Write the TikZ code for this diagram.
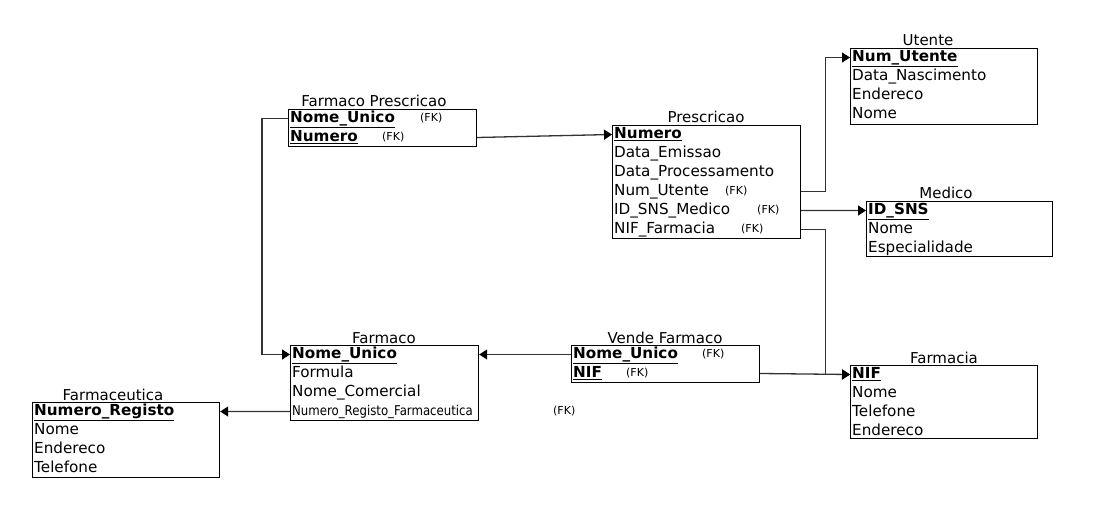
\documentclass[tikz,border=0pt]{standalone}
\usepackage{fontspec}
\usepackage{graphicx}
\setmainfont{DejaVu Sans}
\usetikzlibrary{arrows.meta,positioning}
\newcommand\pkey[1]{\underline{\textbf{#1}}}

\begin{document}
\begin{tikzpicture}[x=1pt, y=-1pt,
  tbl/.style={draw, line width=1.2pt, anchor=north west, inner sep=0pt},
  title/.style={anchor=base, inner sep=0pt, font=\fontsize{15}{15}\selectfont},
  attr/.style={anchor=north west, inner sep=0pt, text height=13.4pt, text depth=5.2pt, font=\fontsize{15.2}{15}\selectfont},
  attrbelow/.style={attr, below=0pt of #1.south west, anchor=north west},
  fk/.style={anchor=west, inner sep=0pt, font=\fontsize{11}{11}\selectfont},
  ref/.style={draw=black!80, line width=1.3pt, -{Triangle[length=8pt,width=10pt,color=black]}}]
\useasboundingbox (0,0) rectangle (1108,505);

% Utente
\node[tbl, minimum width=187pt, minimum height=76pt] (utbox) at (850,48) {};
\node[title] (uttitle) at (928,46) {Utente};
\node[attr] (ut1) at ([xshift=2pt]utbox.north west) {\pkey{Num\_Utente}};
\node[attrbelow=ut1] (ut2) {Data\_Nascimento};
\node[attrbelow=ut2] (ut3) {Endereco};
\node[attrbelow=ut3] (ut4) {Nome};

% Prescricao
\node[tbl, minimum width=188pt, minimum height=113pt] (prbox) at (612,125) {};
\node[title] (prtitle) at (706,123) {Prescricao};
\node[attr] (pr1) at ([xshift=2pt]prbox.north west) {\pkey{Numero}};
\node[attrbelow=pr1] (pr2) {Data\_Emissao};
\node[attrbelow=pr2] (pr3) {Data\_Processamento};
\node[attrbelow=pr3] (pr4) {Num\_Utente};
\node[attrbelow=pr4] (pr5) {ID\_SNS\_Medico};
\node[attrbelow=pr5] (pr6) {NIF\_Farmacia};
\node[fk] (prfk4) at (725,0 |- pr4) {(FK)};
\node[fk] (prfk5) at (757,0 |- pr5) {(FK)};
\node[fk] (prfk6) at (741,0 |- pr6) {(FK)};

% Farmaco_Prescricao
\node[tbl, minimum width=188pt, minimum height=37pt] (fpbox) at (288,109) {};
\node[title] (fptitle) at (374,107) {Farmaco Prescricao};
\node[attr] (fp1) at ([xshift=2pt]fpbox.north west) {\pkey{Nome\_Unico}};
\node[attrbelow=fp1] (fp2) {\pkey{Numero}};
\node[fk] (fpfk1) at (420,0 |- fp1) {(FK)};
\node[fk] (fpfk2) at (382,0 |- fp2) {(FK)};

% Medico
\node[tbl, minimum width=186pt, minimum height=55pt] (mebox) at (866,201) {};
\node[title] (metitle) at (946,199) {Medico};
\node[attr] (me1) at ([xshift=2pt]mebox.north west) {\pkey{ID\_SNS}};
\node[attrbelow=me1] (me2) {Nome};
\node[attrbelow=me2] (me3) {Especialidade};

% Farmaco
\node[tbl, minimum width=188pt, minimum height=75pt] (fabox) at (290,345) {};
\node[title] (fatitle) at (384,343) {Farmaco};
\node[attr] (fa1) at ([xshift=2pt]fabox.north west) {\pkey{Nome\_Unico}};
\node[attrbelow=fa1] (fa2) {Formula};
\node[attrbelow=fa2] (fa3) {Nome\_Comercial};
\node[attrbelow=fa3] (fa4) {\scalebox{0.87}[1]{\fontsize{13.5}{13.5}\selectfont Numero\_Registo\_Farmaceutica}};
\node[fk] (fafk4) at (553,0 |- fa4) {(FK)};

% Vende_Farmaco
\node[tbl, minimum width=188pt, minimum height=37pt] (vfbox) at (571,345) {};
\node[title] (vftitle) at (665,343) {Vende Farmaco};
\node[attr] (vf1) at ([xshift=2pt]vfbox.north west) {\pkey{Nome\_Unico}};
\node[attrbelow=vf1] (vf2) {\pkey{NIF}};
\node[fk] (vffk1) at (702,0 |- vf1) {(FK)};
\node[fk] (vffk2) at (626,0 |- vf2) {(FK)};

% Farmacia
\node[tbl, minimum width=187pt, minimum height=73pt] (fcbox) at (850,365) {};
\node[title] (fctitle) at (944,363) {Farmacia};
\node[attr] (fc1) at ([xshift=2pt]fcbox.north west) {\pkey{NIF}};
\node[attrbelow=fc1] (fc2) {Nome};
\node[attrbelow=fc2] (fc3) {Telefone};
\node[attrbelow=fc3] (fc4) {Endereco};

% Farmaceutica
\node[tbl, minimum width=187pt, minimum height=75pt] (fcebox) at (32,402) {};
\node[title] (fcetitle) at (113,400) {Farmaceutica};
\node[attr] (fce1) at ([xshift=2pt]fcebox.north west) {\pkey{Numero\_Registo}};
\node[attrbelow=fce1] (fce2) {Nome};
\node[attrbelow=fce2] (fce3) {Endereco};
\node[attrbelow=fce3] (fce4) {Telefone};

% foreign keys
\draw[ref] (fpbox.east |- fp2) -- (prbox.west |- pr1);
\draw[ref] (fpbox.west |- fp1) -- ++(-26,0) |- (fabox.west |- fa1);
\draw[ref] (prbox.east |- pr4) -- ++(24,0) |- (utbox.west |- ut1);
\draw[ref] (prbox.east |- pr5) -- (mebox.west |- me1);
\draw[ref] (prbox.east |- pr6) -- ++(24,0) |- (fcbox.west |- fc1);
\draw[ref] (vfbox.east |- vf2) -- (fcbox.west |- fc1);
\draw[ref] (vfbox.west |- vf1) -- (fabox.east |- fa1);
\draw[ref] (fabox.west |- fa4) -- (fcebox.east |- fce1);
\end{tikzpicture}
\end{document}
